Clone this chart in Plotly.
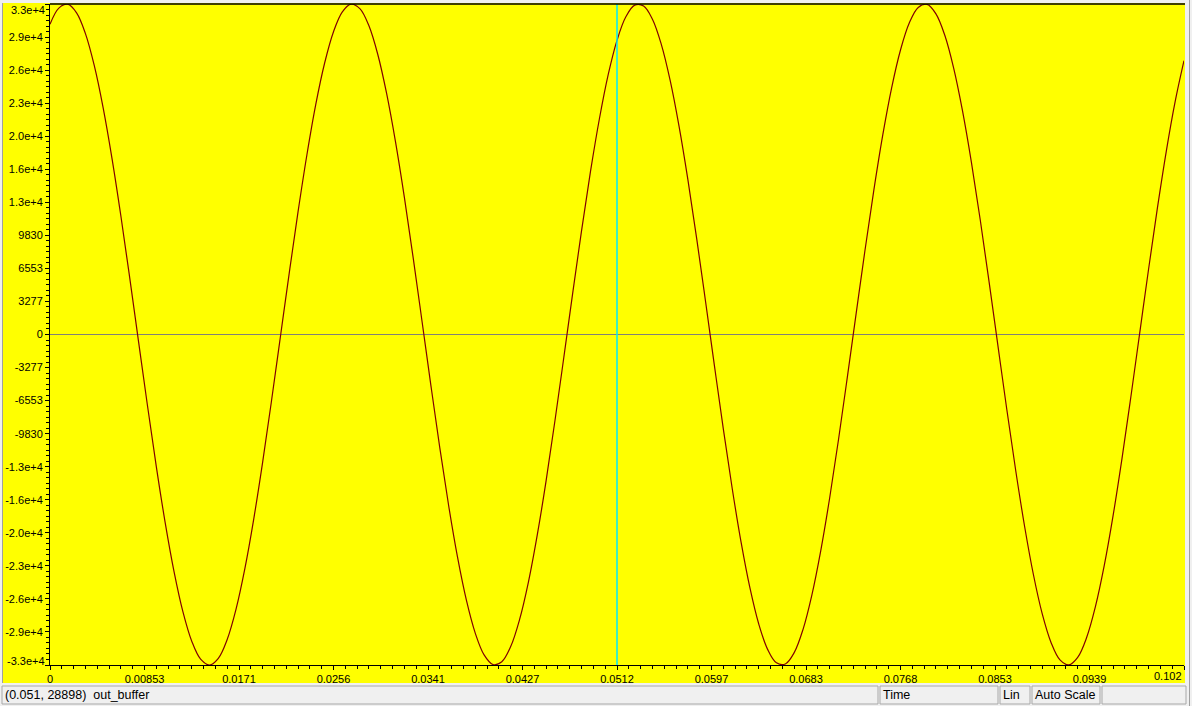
import plotly.graph_objects as go

time_s = [0.0000, 0.0008, 0.0016, 0.0024, 0.0032, 0.0040, 0.0048, 0.0056, 0.0064, 0.0072,
          0.0080, 0.0088, 0.0096, 0.0104, 0.0112, 0.0120, 0.0128, 0.0136, 0.0144, 0.0152,
          0.0160, 0.0168, 0.0176, 0.0184, 0.0192, 0.0200, 0.0208, 0.0216, 0.0224, 0.0232,
          0.0240, 0.0248, 0.0256, 0.0264, 0.0272, 0.0280, 0.0288, 0.0296, 0.0304, 0.0312,
          0.0320, 0.0328, 0.0336, 0.0344, 0.0352, 0.0360, 0.0368, 0.0376, 0.0384, 0.0392,
          0.0400, 0.0408, 0.0416, 0.0424, 0.0432, 0.0440, 0.0448, 0.0456, 0.0464, 0.0472,
          0.0480, 0.0488, 0.0496, 0.0504, 0.0512, 0.0520, 0.0528, 0.0536, 0.0544, 0.0552,
          0.0560, 0.0568, 0.0576, 0.0584, 0.0592, 0.0600, 0.0608, 0.0616, 0.0624, 0.0632,
          0.0640, 0.0648, 0.0656, 0.0664, 0.0672, 0.0680, 0.0688, 0.0696, 0.0704, 0.0712,
          0.0720, 0.0728, 0.0736, 0.0744, 0.0752, 0.0760, 0.0768, 0.0776, 0.0784, 0.0792,
          0.0800, 0.0808, 0.0816, 0.0824, 0.0832, 0.0840, 0.0848, 0.0856, 0.0864, 0.0872,
          0.0880, 0.0888, 0.0896, 0.0904, 0.0912, 0.0920, 0.0928, 0.0936, 0.0944, 0.0952,
          0.0960, 0.0968, 0.0976, 0.0984, 0.0992, 0.1000, 0.1008, 0.1016, 0.1024]
out_buffer = [30765, 32364, 32744, 31892, 29835, 26653, 22469, 17439, 11747, 5616,
              -727, -7042, -13094, -18648, -23504, -27475, -30408, -32194, -32766, -32105,
              -30234, -27223, -23186, -18274, -12677, -6596, -269, 6065, 12176, 17822,
              22812, 26918, 30021, 31994, 32758, 32289, 30602, 27763, 23874, 19093,
              13589, 7566, 1268, -5086, -11243, -16977, -22082, -26342, -29605, -31765,
              -32718, -32443, -30945, -28278, -24552, -19876, -14486, -8529, -2258, 4099,
              10305, 16118, 21318, 25738, 29166, 31502, 32652, 32568, 31257, 28769,
              25195, 20663, 15364, 9486, 3247, -3113, -9355, -15247, -20565, -25106,
              -28704, -31217, -32554, -32662, -31542, -29231, -25811, -21423, -16236, -10436,
              -4230, 2120, 8405, 14362, 19785, 24461, 28209, 30899, 32426, 32727,
              31794, 29667, 26414, 22167, 17091, 11374, 5216, -1127, -7438, -13457,
              -18985, -23795, -27698, -30552, -32266, -32761, -32020, -30074, -26990, -22901,
              -17937, -12301, -6193, 138, 6471, 12550, 18166, 23088, 27151]

x_tick_vals = [0, 0.008533, 0.017067, 0.0256, 0.034133, 0.042667, 0.0512,
               0.059733, 0.068267, 0.0768, 0.085333, 0.093867, 0.1024]
x_tick_text = ["0", "0.00853", "0.0171", "0.0256", "0.0341", "0.0427", "0.0512",
               "0.0597", "0.0683", "0.0768", "0.0853", "0.0939", "0.102"]
y_tick_vals = [-32768, -29491, -26214, -22938, -19661, -16384, -13107, -9830, -6554, -3277,
               0, 3277, 6554, 9830, 13107, 16384, 19661, 22938, 26214, 29491, 32768]
y_tick_text = ["-3.3e+4", "-2.9e+4", "-2.6e+4", "-2.3e+4", "-2.0e+4", "-1.6e+4", "-1.3e+4",
               "-9830", "-6553", "-3277", "0", "3277", "6553", "9830", "1.3e+4", "1.6e+4",
               "2.0e+4", "2.3e+4", "2.6e+4", "2.9e+4", "3.3e+4"]

cursor_x = 0.0512
status_readout = "(0.051, 28898)  out_buffer"
status_fields = ["Time", "Lin", "Auto Scale", ""]

# ---- geometry ----
W, H = 1192, 706
L, R, T, B = 50, 8, 4, 41
PW, PH = W - L - R, H - T - B
X_MAX = 0.1024
Y_MAX = 32768


def xp(px):
    return (px - L) / PW


def yp(py):
    return (H - B - py) / PH


FONT = "Liberation Sans, Arial, sans-serif"
YELLOW = "#ffff00"
GRAY = "#f0f0f0"

fig = go.Figure()
fig.add_trace(go.Scatter(
    x=time_s, y=out_buffer, mode="lines",
    line=dict(color="#800000", width=1.2, shape="spline", smoothing=1.0),
    hoverinfo="skip", showlegend=False))

# edge tick labels are drawn as annotations (shifted inward like the reference)
y_axis_text = [t if v not in (-Y_MAX, Y_MAX) else "" for v, t in zip(y_tick_vals, y_tick_text)]
x_axis_text = [t if v != X_MAX else "" for v, t in zip(x_tick_vals, x_tick_text)]

shapes = []
annotations = []

# zero line and cursor line
shapes.append(dict(type="line", xref="paper", yref="y", x0=0, x1=1, y0=0, y1=0,
                   line=dict(color="#808078", width=1), layer="below"))
shapes.append(dict(type="line", xref="x", yref="paper", x0=cursor_x, x1=cursor_x,
                   y0=0, y1=1, line=dict(color="#00e8ff", width=1.5), layer="above"))

# window chrome: status bar and thin borders
shapes.append(dict(type="rect", xref="paper", yref="paper", x0=xp(0), x1=xp(W),
                   y0=yp(683), y1=yp(H), fillcolor=GRAY, line=dict(width=0), layer="above"))
shapes.append(dict(type="rect", xref="paper", yref="paper", x0=xp(0), x1=xp(3),
                   y0=yp(0), y1=yp(H), fillcolor=GRAY, line=dict(width=0), layer="above"))
shapes.append(dict(type="line", xref="paper", yref="paper", x0=xp(2.5), x1=xp(2.5),
                   y0=yp(0), y1=yp(683), line=dict(color="#a0a0a0", width=1), layer="above"))
shapes.append(dict(type="rect", xref="paper", yref="paper", x0=xp(0), x1=xp(W),
                   y0=yp(0), y1=yp(3), fillcolor=GRAY, line=dict(width=0), layer="above"))
shapes.append(dict(type="rect", xref="paper", yref="paper", x0=xp(1185), x1=xp(W),
                   y0=yp(0), y1=yp(H), fillcolor=GRAY, line=dict(width=0), layer="above"))
shapes.append(dict(type="line", xref="paper", yref="paper", x0=xp(1189.5), x1=xp(1189.5),
                   y0=yp(0), y1=yp(H), line=dict(color="#a0a0a0", width=1), layer="above"))
# top border of plot
shapes.append(dict(type="line", xref="paper", yref="paper", x0=xp(L), x1=xp(1185),
                   y0=1, y1=1, line=dict(color="#000000", width=1.5), layer="above"))

boxes = [(2, 878), (880, 998), (1000, 1030), (1032, 1100), (1102, 1186)]
for x0, x1 in boxes:
    shapes.append(dict(type="rect", xref="paper", yref="paper", x0=xp(x0), x1=xp(x1),
                       y0=yp(686), y1=yp(704), fillcolor=GRAY,
                       line=dict(color="#a8a8a8", width=1), layer="above"))

texts = [status_readout] + status_fields
for (x0, x1), txt in zip(boxes, texts):
    if txt:
        annotations.append(dict(xref="paper", yref="paper", x=xp(x0 + 1), y=yp(695),
                                text=txt, showarrow=False, xanchor="left", yanchor="middle",
                                font=dict(family=FONT, size=12.5, color="#000000")))

# edge tick labels
annotations.append(dict(xref="paper", yref="paper", x=xp(47), y=yp(10), text=y_tick_text[-1],
                        showarrow=False, xanchor="right", yanchor="middle",
                        font=dict(family=FONT, size=11, color="#000000")))
annotations.append(dict(xref="paper", yref="paper", x=xp(47), y=yp(661), text=y_tick_text[0],
                        showarrow=False, xanchor="right", yanchor="middle",
                        font=dict(family=FONT, size=11, color="#000000")))
annotations.append(dict(xref="paper", yref="paper", x=xp(1184), y=yp(676), text=x_tick_text[-1],
                        showarrow=False, xanchor="right", yanchor="middle",
                        font=dict(family=FONT, size=11, color="#000000")))

fig.update_layout(
    width=W, height=H,
    margin=dict(l=L, r=R, t=T, b=B, pad=0, autoexpand=False),
    paper_bgcolor=YELLOW, plot_bgcolor=YELLOW,
    showlegend=False,
    shapes=shapes, annotations=annotations,
    xaxis=dict(range=[0, X_MAX], tickmode="array", tickvals=x_tick_vals, ticktext=x_axis_text,
               automargin=False,
               showgrid=False, zeroline=False, showline=True, linecolor="#000000", linewidth=1,
               ticks="outside", ticklen=4, tickcolor="#000000", tickwidth=1,
               tickfont=dict(family=FONT, size=11, color="#000000"),
               minor=dict(tick0=0, dtick=X_MAX / 96, ticks="outside", ticklen=3,
                          tickcolor="#000000", showgrid=False),
               fixedrange=True),
    yaxis=dict(range=[-Y_MAX, Y_MAX], tickmode="array", tickvals=y_tick_vals, ticktext=y_axis_text,
               automargin=False,
               showgrid=False, zeroline=False,
               showline=True, linecolor="#000000", linewidth=1,
               ticks="outside", ticklen=4, tickcolor="#000000", tickwidth=1,
               tickfont=dict(family=FONT, size=11, color="#000000"),
               minor=dict(tick0=0, dtick=Y_MAX / 60, ticks="outside", ticklen=3,
                          tickcolor="#000000", showgrid=False),
               fixedrange=True),
)

fig.write_html(
    "out.html",
    config={"displayModeBar": False},
    post_script="document.body.style.margin='0';document.body.style.overflow='hidden';",
)
